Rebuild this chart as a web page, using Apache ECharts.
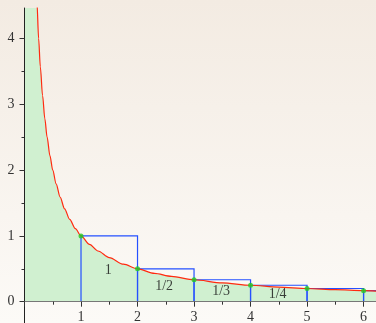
<!DOCTYPE html>
<html><head><meta charset="utf-8">
<script src="https://cdn.jsdelivr.net/npm/echarts@6/dist/echarts.min.js"></script>
<style>html,body{margin:0;padding:0;}#c{width:376px;height:323px;}</style>
</head><body><div id="c"></div>
<script>
// curve y = 1/x
var curveX = [0, 0.05, 0.1, 0.15, 0.2, 0.22, 0.25, 0.28, 0.32, 0.36, 0.4, 0.45, 0.5, 0.56, 0.63, 0.71, 0.8, 0.9, 1, 1.15, 1.3, 1.5, 1.75, 2, 2.3, 2.6, 3, 3.5, 4, 4.5, 5, 5.5, 6, 6.25];
var curveY = [20, 20, 10, 6.67, 5, 4.55, 4, 3.57, 3.13, 2.78, 2.5, 2.22, 2, 1.79, 1.59, 1.41, 1.25, 1.11, 1, 0.87, 0.77, 0.67, 0.57, 0.5, 0.43, 0.385, 0.333, 0.286, 0.25, 0.222, 0.2, 0.182, 0.167, 0.16];
// rectangles [n, n+1] with height 1/n
var rectLeft = [1, 2, 3, 4, 5, 6];
var rectHeight = [1, 0.5, 0.333, 0.25, 0.2, 0.1667];
// area labels
var areaLabels = ['1', '1/2', '1/3', '1/4'];
var labelX = [1.48, 2.47, 3.48, 4.48];
var labelY = [0.48, 0.24, 0.16, 0.115];
// y tick labels
var yTicks = [0, 1, 2, 3, 4];
var yMinor = [0.5, 1.5, 2.5, 3.5];

var curveData = curveX.map(function (x, i) { return [x, curveY[i]]; });
var lineData = curveData.slice(3);
var rectData = rectLeft.map(function (x, i) { return [x, rectHeight[i]]; });
var labelData = labelX.map(function (x, i) { return [x, labelY[i]]; });

var font = 'Liberation Serif';
var chart = echarts.init(document.getElementById('c'));
chart.setOption({
  animation: false,
  backgroundColor: {type: 'linear', x: 0, y: 0, x2: 0, y2: 1,
    colorStops: [{offset: 0, color: '#f3ebe2'}, {offset: 1, color: '#fcfaf7'}]},
  grid: {left: 24.5, right: 0, top: 8, bottom: 0, containLabel: false, outerBoundsMode: 'none'},
  xAxis: {
    type: 'value', min: 0, max: 6.22, interval: 1, position: 'bottom', offset: -21.3, z: 10,
    axisLine: {onZero: false, lineStyle: {color: '#777', width: 1}},
    axisTick: {length: 5, lineStyle: {color: '#333'}},
    minorTick: {show: true, splitNumber: 2, length: 3, lineStyle: {color: '#333'}},
    splitLine: {show: false},
    axisLabel: {showMinLabel: false, showMaxLabel: false, margin: 9, color: '#333', fontFamily: font, fontSize: 14}
  },
  yAxis: [{
    type: 'value', min: -0.324, max: 4.463, z: 10,
    axisLine: {show: true, onZero: false, lineStyle: {color: '#222', width: 1}},
    axisTick: {show: true, length: 5, customValues: yTicks, lineStyle: {color: '#333'}},
    splitLine: {show: false},
    axisLabel: {customValues: yTicks, margin: 10, color: '#333', fontFamily: font, fontSize: 14}
  }, {
    type: 'value', min: -0.324, max: 4.463, position: 'left',
    axisLine: {show: false, onZero: false},
    axisTick: {show: true, length: 3, customValues: yMinor, lineStyle: {color: '#333'}},
    splitLine: {show: false},
    axisLabel: {show: false}
  }],
  series: [{
    type: 'line', data: curveData, showSymbol: false, smooth: 0.3, smoothMonotone: 'x',
    lineStyle: {width: 0}, areaStyle: {color: '#d0f0d0', opacity: 1}, clip: true, z: 1
  }, {
    type: 'custom', data: rectData, clip: true, z: 2,
    renderItem: function (params, api) {
      var p0 = api.coord([api.value(0), api.value(1)]);
      var p1 = api.coord([api.value(0) + 1, 0]);
      return {type: 'polyline', shape: {points: [[p0[0], p1[1]], [p0[0], p0[1]], [p1[0], p0[1]], [p1[0], p1[1]]]},
        style: {fill: 'none', stroke: '#2550ff', lineWidth: 1.2}};
    }
  }, {
    type: 'line', data: lineData, showSymbol: false, smooth: 0.3, smoothMonotone: 'x',
    lineStyle: {width: 1.2, color: '#ff2a10'}, clip: true, z: 3
  }, {
    type: 'scatter', data: rectData, symbol: 'circle', symbolSize: 5,
    itemStyle: {color: '#22cc22'}, z: 4
  }, {
    type: 'scatter', data: labelData, symbolSize: 0, z: 5,
    label: {show: true, position: 'inside', color: '#111', fontFamily: font, fontSize: 14,
      formatter: function (p) { return areaLabels[p.dataIndex]; }}
  }]
});
</script>
</body></html>
